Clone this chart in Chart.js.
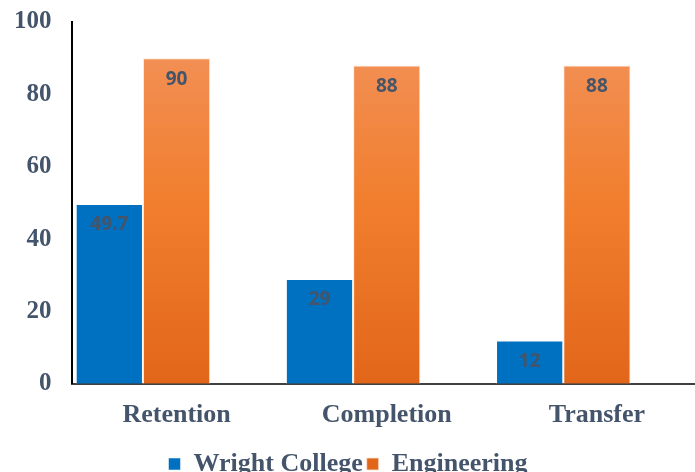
<!DOCTYPE html>
<html>
<head>
<meta charset="utf-8">
<script src="https://cdn.jsdelivr.net/npm/chart.js@4.4.1/dist/chart.umd.min.js"></script>
<style>
    html, body { margin: 0; padding: 0; background: #fff; overflow: hidden; }
    #wrap { position: relative; left: -16px; top: -13px; width: 718px; height: 500px; }
</style>
</head>
<body>
<div id="wrap"><canvas id="chart"></canvas></div>
<script>
const categories = ["Retention", "Completion", "Transfer"];
const wrightCollege = [49.7, 29, 12];
const engineering = [90, 88, 88];
// empty third series, the source chart leaves room for one
const spacer = [null, null, null];
const yTicks = [0, 20, 40, 60, 80, 100];

const textColor = "#44546A";
const serif = "'Liberation Serif', 'Times New Roman', serif";

function orangeFill(ctx) {
    const area = ctx.chart.chartArea;
    if (!area) return "#ED7D31";
    const g = ctx.chart.ctx.createLinearGradient(0, area.top, 0, area.bottom);
    g.addColorStop(0, "#F2935C");
    g.addColorStop(0.5, "#F17E2E");
    g.addColorStop(1, "#E2661A");
    return g;
}

const barLabels = {
    id: "barLabels",
    afterDatasetsDraw(chart) {
        const c = chart.ctx;
        c.save();
        c.font = "bold 19px 'Open Sans', sans-serif";
        c.fillStyle = textColor;
        c.textAlign = "center";
        c.textBaseline = "middle";
        chart.data.datasets.forEach((ds, i) => {
            if (ds.label === "spacer") return;
            chart.getDatasetMeta(i).data.forEach((bar, j) => {
                const v = ds.data[j];
                if (v == null) return;
                c.fillText(String(v), bar.x, bar.y + 21);
            });
        });
        c.restore();
    }
};

new Chart(document.getElementById("chart"), {
    type: "bar",
    data: {
        labels: categories,
        datasets: [
            {
                label: "Wright College",
                data: wrightCollege,
                backgroundColor: "#0070C0",
                borderColor: "rgba(255,255,255,0.5)",
                borderWidth: 1,
            },
            {
                label: "Engineering",
                data: engineering,
                backgroundColor: orangeFill,
                borderColor: "rgba(255,230,215,0.8)",
                borderWidth: 1,
            },
            {
                label: "spacer",
                data: spacer,
                backgroundColor: "rgba(0,0,0,0)",
            },
        ],
    },
    options: {
        responsive: true,
        maintainAspectRatio: false,
        animation: false,
        categoryPercentage: 0.96,
        barPercentage: 1,
        layout: { padding: { top: 0, left: 10, right: 0, bottom: 0 } },
        plugins: {
            tooltip: { enabled: false },
            legend: {
                display: true,
                position: "bottom",
                labels: {
                    filter: (item) => item.text !== "spacer",
                    boxWidth: 12,
                    boxHeight: 12,
                    color: textColor,
                    padding: 4,
                    font: { family: serif, size: 26, weight: "bold" },
                },
            },
        },
        scales: {
            x: {
                grid: { display: false, drawTicks: false },
                border: { display: true, color: "#404040", width: 2 },
                ticks: {
                    color: textColor,
                    padding: 16,
                    font: { family: serif, size: 26, weight: "bold" },
                },
            },
            y: {
                min: 0,
                max: 100,
                afterBuildTicks: (axis) => {
                    axis.ticks = yTicks.map((v) => ({ value: v }));
                },
                grid: { display: false, drawTicks: false },
                border: { display: true, color: "#000000", width: 2 },
                ticks: {
                    color: textColor,
                    padding: 20,
                    font: { family: serif, size: 25, weight: "bold" },
                },
            },
        },
    },
    plugins: [barLabels],
});
</script>
</body>
</html>
